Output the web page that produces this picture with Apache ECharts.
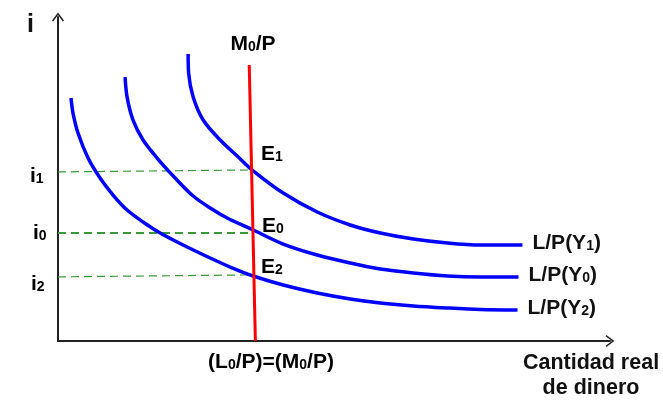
<!DOCTYPE html>
<html>
<head>
<meta charset="utf-8">
<script src="https://cdn.jsdelivr.net/npm/echarts@6/dist/echarts.min.js"></script>
<style>
html,body{margin:0;padding:0;background:#fff;}
#c{width:663px;height:401px;}
</style>
</head>
<body>
<div id="c"></div>
<script>
// Curve data: [quantity, interest rate] in arbitrary conceptual units
const curveY1 = [[23.34,87.23],[23.43,81.46],[24.24,74.16],[26.03,67.17],[29.08,61.09],[32.32,55.93],[34.83,51.98],[40.39,44.98],[46.50,39.21],[52.42,35.26],[57.81,32.83],[63.73,31.00],[69.84,29.79],[75.76,29.18],[83.30,29.18]];
const curveY0 = [[12.03,80.24],[12.39,74.16],[13.46,67.17],[15.26,61.09],[17.77,55.62],[21.01,49.54],[24.24,44.07],[27.29,40.43],[30.34,37.39],[34.83,33.89],[40.39,29.48],[46.50,26.14],[52.42,23.71],[57.81,21.88],[63.73,20.67],[69.84,19.76],[75.76,19.45],[82.59,19.45]];
const curveY2 = [[2.33,73.86],[2.69,69.30],[3.59,63.22],[5.39,55.62],[7.54,49.54],[9.87,44.38],[12.39,39.82],[15.26,36.17],[18.31,32.83],[22.80,28.88],[27.29,25.23],[30.88,22.49],[35.01,19.76],[40.39,17.02],[46.50,14.59],[52.42,12.77],[57.81,11.55],[63.73,10.64],[69.84,10.03],[75.76,9.57],[82.41,9.42]];
const moneySupply = [[34.3,83.9],[35.4,0]];
const rateI1 = [[0,51.4],[34.7,52.0]];
const rateI0 = [[0,32.8],[35.0,32.8]];
const rateI2 = [[0,19.5],[35.0,20.1]];
const curveNames = ['L/P(Y1)','L/P(Y0)','L/P(Y2)'];
const curveLabels = ['{n|L/P(Y}{s|1}{n|)}','{n|L/P(Y}{s|0}{n|)}','{n|L/P(Y}{s|2}{n|)}'];

const FONT = '"Liberation Sans", Arial, sans-serif';
const rich = {
  n: {fontSize: 21, fontWeight: 'bold', fontFamily: FONT, color: '#111'},
  s: {fontSize: 14, fontWeight: 'bold', fontFamily: FONT, color: '#111', verticalAlign: 'bottom', padding:[6,0,0,0]}
};
const chevron = 'path://M0,8 L6,0 L12,8 L10.8,8.8 L6,2.4 L1.2,8.8 Z';

const chart = echarts.init(document.getElementById('c'), null, {renderer: 'canvas'});

function curve(data, idx) {
  return {
    type: 'line', name: curveNames[idx], data: data, smooth: 0.3, symbol: 'none',
    lineStyle: {color: '#0000ff', width: 3.5},
    endLabel: {show: true, formatter: curveLabels[idx], rich: rich, distance: 10, offset:[0,-2]},
    z: 3
  };
}
function dashed(data, w) {
  return {type: 'line', data: data, symbol: 'none', silent: true,
    lineStyle: {color: '#3a9a3a', width: w, type: [8, 5]}, z: 2};
}

const option = {
  animation: false,
  backgroundColor: '#fff',
  grid: {left: 58, right: 53, top: 17, bottom: 60},
  xAxis: {type: 'value', min: 0, max: 99,
    axisLine: {show: true, onZero: false, symbol: ['none', chevron], symbolSize: [12, 9], lineStyle: {color: '#222', width: 2}},
    axisTick: {show: false}, axisLabel: {show: false}, splitLine: {show: false}},
  yAxis: {type: 'value', min: 0, max: 98.5,
    axisLine: {show: true, onZero: false, symbol: ['none', chevron], symbolSize: [12, 9], lineStyle: {color: '#222', width: 2}},
    axisTick: {show: false}, axisLabel: {show: false}, splitLine: {show: false}},
  series: [
    dashed(rateI1, 1.2), dashed(rateI0, 2), dashed(rateI2, 1.2),
    curve(curveY1, 0), curve(curveY0, 1), curve(curveY2, 2),
    {type: 'line', data: moneySupply, symbol: 'none', lineStyle: {color: '#ff0000', width: 3}, z: 4}
  ],
  graphic: [
    {type: 'text', left: 27, top: 13, style: {text: 'i', font: 'bold 25px ' + FONT, fill: '#111'}},
    {type: 'text', x: 253, y: 44, style: {text: '{n|M}{s|0}{n|/P}', rich: rich, align: 'center', verticalAlign: 'middle'}},
    {type: 'text', x: 261, y: 154, style: {text: '{n|E}{s|1}', rich: rich, verticalAlign: 'middle'}},
    {type: 'text', x: 262, y: 226, style: {text: '{n|E}{s|0}', rich: rich, verticalAlign: 'middle'}},
    {type: 'text', x: 261, y: 267, style: {text: '{n|E}{s|2}', rich: rich, verticalAlign: 'middle'}},
    {type: 'text', x: 30, y: 176, style: {text: '{n|i}{s|1}', rich: rich, verticalAlign: 'middle'}},
    {type: 'text', x: 33, y: 233, style: {text: '{n|i}{s|0}', rich: rich, verticalAlign: 'middle'}},
    {type: 'text', x: 31, y: 284, style: {text: '{n|i}{s|2}', rich: rich, verticalAlign: 'middle'}},
    {type: 'text', x: 271, y: 362, style: {text: '{n|(L}{s|0}{n|/P)=(M}{s|0}{n|/P)}', rich: rich, align: 'center', verticalAlign: 'middle'}},
    {type: 'text', x: 591, y: 376, style: {text: 'Cantidad real\nde dinero', font: 'bold 21.5px ' + FONT, fill: '#111', align: 'center', verticalAlign: 'middle', lineHeight: 25}}
  ]
};
chart.setOption(option);
</script>
</body>
</html>
